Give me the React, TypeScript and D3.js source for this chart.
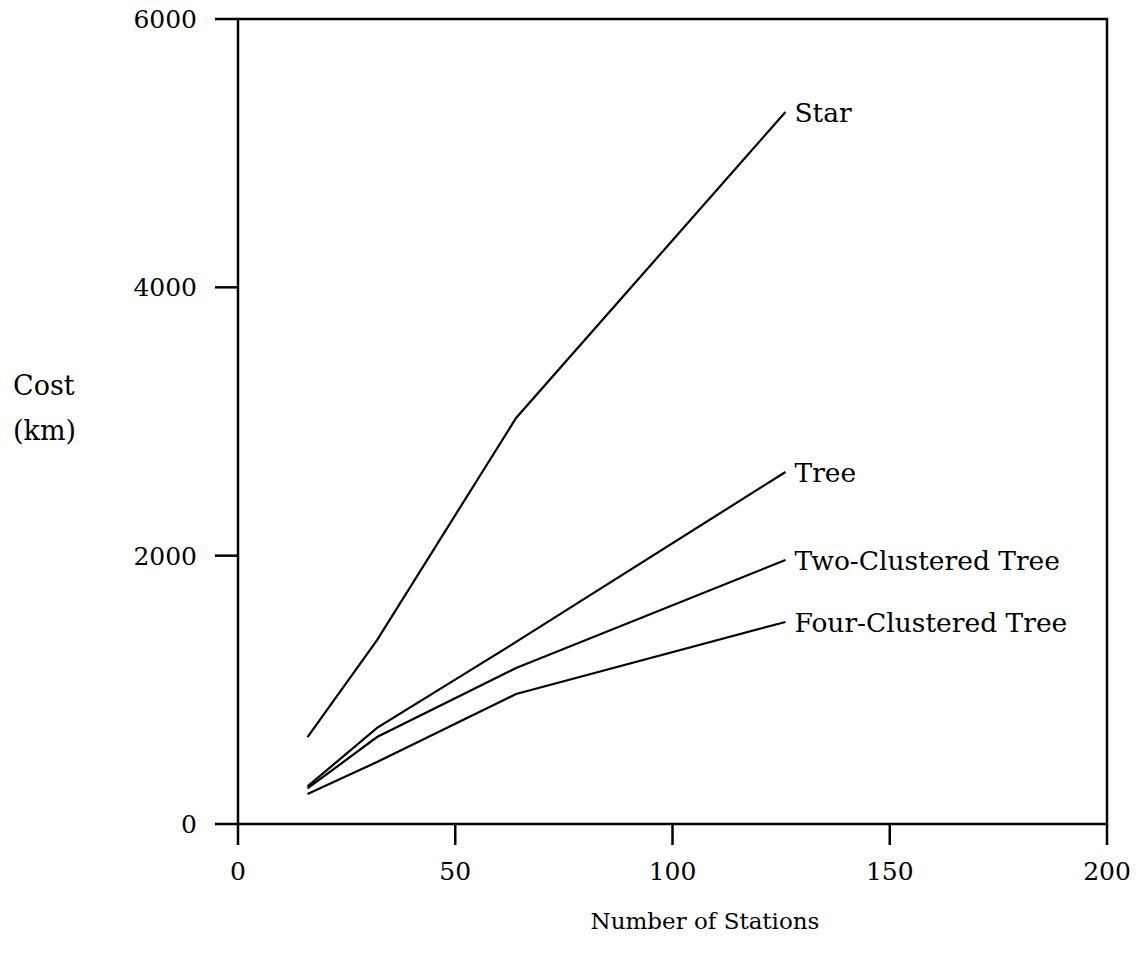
import React from "react";
import * as d3 from "d3";

const stations = [16, 32, 64, 126];
const starCost = [648, 1371, 3026, 5307];
const treeCost = [280, 716, 1357, 2624];
const twoClusteredCost = [265, 648, 1163, 1968];
const fourClusteredCost = [224, 462, 969, 1506];
const seriesNames = ["Star", "Tree", "Two-Clustered Tree", "Four-Clustered Tree"];
const xTicks = [0, 50, 100, 150, 200];
const yTicks = [0, 2000, 4000, 6000];

const W = 1140;
const H = 965;
const FONT = "'DejaVu Serif', serif";

export default function App() {
  const x = d3.scaleLinear().domain([0, 200]).range([238, 1107]);
  const y = d3.scaleLinear().domain([0, 6000]).range([824, 19]);
  const line = d3
    .line<[number, number]>()
    .x((d) => x(d[0]))
    .y((d) => y(d[1]));
  const series = [starCost, treeCost, twoClusteredCost, fourClusteredCost];

  return (
    <svg
      width={W}
      height={H}
      style={{ position: "absolute", left: 0, top: 0, background: "#fff" }}
      fontFamily={FONT}
    >
      <rect x={0} y={0} width={W} height={H} fill="#fff" />
      {/* frame */}
      <rect
        x={x(0)}
        y={y(6000)}
        width={x(200) - x(0)}
        height={y(0) - y(6000)}
        fill="none"
        stroke="#000"
        strokeWidth={2.5}
      />
      {/* y ticks */}
      {yTicks.map((t) => (
        <g key={"y" + t}>
          <line x1={x(0) - 23} x2={x(0)} y1={y(t)} y2={y(t)} stroke="#000" strokeWidth={2.5} />
          <text x={197} y={y(t) + 9} textAnchor="end" fontSize={25} fill="#000">
            {t}
          </text>
        </g>
      ))}
      {/* x ticks */}
      {xTicks.map((t) => (
        <g key={"x" + t}>
          <line x1={x(t)} x2={x(t)} y1={y(0)} y2={y(0) + 21} stroke="#000" strokeWidth={2.5} />
          <text x={x(t)} y={880} textAnchor="middle" fontSize={25} fill="#000">
            {t}
          </text>
        </g>
      ))}
      {/* axis titles */}
      <text x={13} y={395} fontSize={27} fill="#000">Cost</text>
      <text x={13} y={440} fontSize={27} fill="#000">(km)</text>
      <text x={705} y={929} textAnchor="middle" fontSize={23} fill="#000">
        Number of Stations
      </text>
      {/* series */}
      {series.map((vals, i) => {
        const pts = stations.map((s, j) => [s, vals[j]] as [number, number]);
        const last = pts[pts.length - 1];
        return (
          <g key={seriesNames[i]}>
            <path d={line(pts) || ""} fill="none" stroke="#000" strokeWidth={2.2} />
            <text x={x(last[0]) + 9} y={y(last[1]) + 10} fontSize={26.5} fill="#000">
              {seriesNames[i]}
            </text>
          </g>
        );
      })}
    </svg>
  );
}
